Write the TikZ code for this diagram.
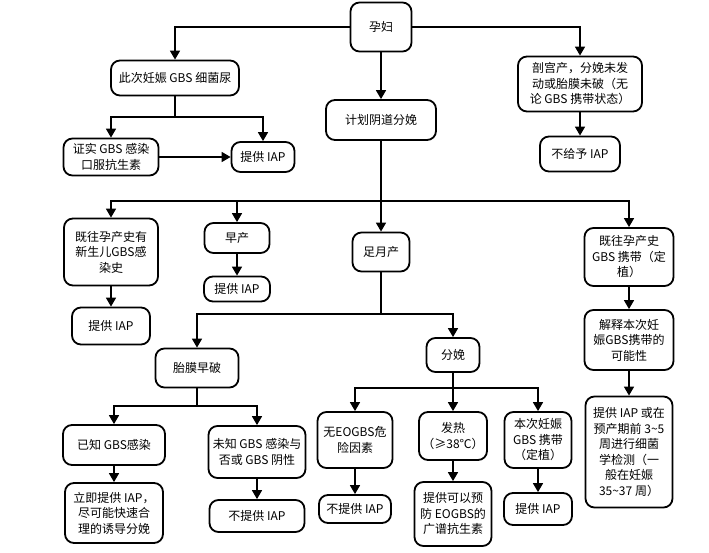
\documentclass[tikz,border=0pt]{standalone}
\usepackage{fontspec}
\setmainfont{Noto Sans CJK SC}
\usetikzlibrary{arrows.meta}

\begin{document}
\begin{tikzpicture}[x=1pt,y=-1pt,
  box/.style={draw, line width=1.8pt, rounded corners=9pt, align=center, inner sep=1pt, font=\fontsize{12}{15.5}\selectfont},
  sz/.style 2 args={minimum width=#1pt, minimum height=#2pt},
  edge/.style={line width=1.6pt},
  arr/.style={edge,-{Triangle[length=9pt,width=10pt]}}]
\useasboundingbox (0,0) rectangle (709,553);

\node (yf)[box,sz={61}{49}] at (381,27) {孕妇};
\node (cc)[box,sz={128}{35}] at (175,78) {此次妊娠 GBS 细菌尿};
\node (jh)[box,sz={110}{40}] at (381,120) {计划阴道分娩};
\node (pg)[box,sz={124}{55}] at (580,84) {剖宫产，分娩未发\\动或胎膜未破（无\\论 GBS 携带状态）};
\node (zs)[box,sz={95}{37}] at (111,157) {证实 GBS 感染\\口服抗生素};
\node (i1)[box,sz={63}{30}] at (263,157) {提供 IAP};
\node (bg)[box,sz={80}{35}] at (580,154) {不给予 IAP};

\node (jw)[box,sz={94}{67}] at (111,252) {既往孕产史有\\新生儿GBS感\\染史};
\node (i2)[box,sz={78}{37}] at (111,326) {提供 IAP};
\node (zc)[box,sz={65}{30}] at (237,238) {早产};
\node (i3)[box,sz={66}{25}] at (237,289) {提供 IAP};
\node (zy)[box,sz={57}{39}] at (381,252) {足月产};
\node (jg)[box,sz={89}{58}] at (629,257) {既往孕产史\\GBS 携带（定\\植）};
\node (js)[box,sz={89}{60}] at (629,340) {解释本次妊\\娠GBS携带的\\可能性};

\node (tm)[box,sz={83}{39}] at (197,368) {胎膜早破};
\node (fm)[box,sz={53}{34}] at (453,355) {分娩};
\node (yz)[box,sz={102}{40}] at (114,445) {已知 GBS感染};
\node (lj)[box,sz={98}{60}] at (114,513) {立即提供 IAP，\\尽可能快速合\\理的诱导分娩};
\node (wz)[box,sz={97}{52}] at (257,452) {未知 GBS 感染与\\否或 GBS 阴性};
\node (b1)[box,sz={95}{32}] at (257,516) {不提供 IAP};
\node (wu)[box,sz={75}{56}] at (355,440) {无EOGBS危\\险因素};
\node (b2)[box,sz={72}{28}] at (355,509) {不提供 IAP};
\node (fr)[box,sz={68}{48}] at (453,436) {发热\\（≥38℃）};
\node (ks)[box,sz={77}{64}] at (453,514) {提供可以预\\防 EOGBS的\\广谱抗生素};
\node (bc)[box,sz={67}{56}] at (538,440) {本次妊娠\\GBS 携带\\（定植）};
\node (i4)[box,sz={68}{32}] at (538,509) {提供 IAP};
\node (jc)[box,sz={87}{111}] at (629,452) {提供 IAP 或在\\预产期前 3\textasciitilde5\\周进行细菌\\学检测（一\\般在妊娠\\35\textasciitilde37 周）};

\coordinate (c1) at (175,117);
\coordinate (c2) at (381,201);
\coordinate (c3) at (381,314);
\coordinate (c4) at (197,406);
\coordinate (c5) at (453,388);

\draw [arr] (yf.west) -| (cc);
\draw [arr] (yf.east) -| (pg);
\draw [arr] (yf) -- (jh);
\draw [edge] (cc) -- (c1);
\draw [arr] (c1) -| (zs);
\draw [arr] (c1) -| (i1);
\draw [arr] (zs) -- (i1);
\draw [arr] (pg) -- (bg);

\draw [edge] (jh) -- (c2);
\draw [arr] (c2) -| (jw);
\draw [arr] (c2) -| (zc);
\draw [arr] (c2) -- (zy);
\draw [arr] (c2) -| (jg);
\draw [arr] (jw) -- (i2);
\draw [arr] (zc) -- (i3);
\draw [arr] (jg) -- (js);
\draw [arr] (js) -- (jc);

\draw [edge] (zy) -- (c3);
\draw [arr] (c3) -| (tm);
\draw [arr] (c3) -| (fm);
\draw [edge] (tm) -- (c4);
\draw [arr] (c4) -| (yz);
\draw [arr] (c4) -| (wz);
\draw [arr] (yz) -- (lj);
\draw [arr] (wz) -- (b1);
\draw [edge] (fm) -- (c5);
\draw [arr] (c5) -| (wu);
\draw [arr] (c5) -- (fr);
\draw [arr] (c5) -| (bc);
\draw [arr] (wu) -- (b2);
\draw [arr] (fr) -- (ks);
\draw [arr] (bc) -- (i4);
\end{tikzpicture}
\end{document}
